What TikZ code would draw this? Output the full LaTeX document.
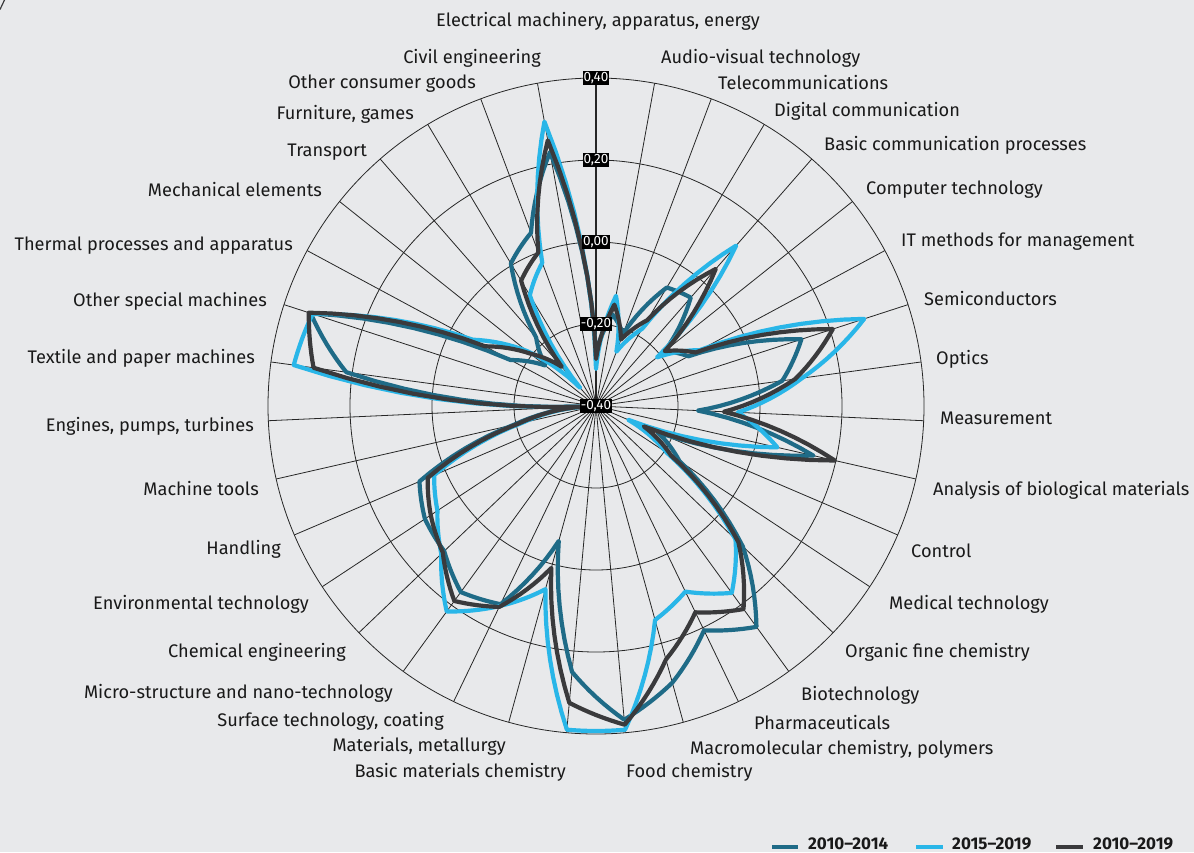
\documentclass[tikz,border=0pt]{standalone}
\usepackage{fontspec}
\setmainfont{Fira Sans}
\usetikzlibrary{calc}
\definecolor{bg}{RGB}{232,233,235}
\definecolor{cteal}{RGB}{31,107,135}
\definecolor{cblue}{RGB}{41,182,232}
\definecolor{cgray}{RGB}{58,58,60}
\definecolor{cgrid}{RGB}{38,38,38}
\definecolor{ctext}{RGB}{25,25,25}
% radii (pt) on the 35 spokes, clockwise from the top; first two repeated at the end
\def\teR{{52,93,77,138,144,88,105,216,188,102,223,67,100,203,273,249,287,315,267,140,220,230,210,205,192,84,14,252,300,97,65,91,166,185,258,52,93}}
\def\blR{{37,112,58,90,213,78,118,282,208,142,186,35,85,193,231,206,222,325,325,190,222,254,214,190,176,76,12,305,298,140,88,24,129,153,289,37,112}}
\def\grR{{47,103,71,100,182,88,113,249,201,128,245,52,90,197,251,229,263,320,298,168,223,241,212,198,183,80,14,285,302,126,84,52,146,164,270,47,103}}
\newcommand{\radarcurve}[2]{%
  \draw[#1] plot[domain=0:35, samples=281, variable=\q]
    ({90-\q*360/35}:{#2[int(\q)]+(#2[int(\q)+1]-#2[int(\q)])*(\q-int(\q))}) -- cycle;}
\begin{document}
\begin{tikzpicture}[x=1pt,y=1pt,
  grid/.style={draw=cgrid, line width=0.8pt},
  series/.style={line width=4.2pt, line join=round},
  tealline/.style={series, draw=cteal},
  blueline/.style={series, draw=cblue},
  grayline/.style={series, draw=cgray},
  lab/.style={font=\fontsize{18.2}{20}\selectfont, text=ctext, inner sep=0pt},
  labL/.style={lab, anchor=base east},
  labR/.style={lab, anchor=base west},
  tick/.style={fill=black, text=white, inner sep=1pt, font=\fontsize{13.5}{13.5}\selectfont},
  legtext/.style={font=\bfseries\fontsize{17}{18}\selectfont, text=ctext, anchor=base west, inner sep=0pt},
  legline/.style={line width=3.2pt}]
\fill[bg] (0,0) rectangle (1194,-852);
\useasboundingbox (0,0) rectangle (1194,-852);
\coordinate (c) at (596,-406);
% corner mark
\coordinate (m1) at (0,-9.5);
\coordinate (m2) at (4.5,0);
\draw[cgray, line width=1.2pt] (m1) -- (m2);
% rings
\foreach \r in {82,164,246,328} \draw[grid] (c) circle[radius=\r pt];
% spokes
\foreach \k in {0,...,34}{\coordinate (s\k) at ($(c)+({90-\k*360/35}:328pt)$);
  \draw[grid] (c) -- (s\k);}
\draw[draw=cgrid, line width=1.2pt] (c) -- (s0);
% series (linear in radius between spokes)
\begin{scope}[shift={(c)}]
\radarcurve{tealline}{\teR}
\radarcurve{blueline}{\blR}
\radarcurve{grayline}{\grR}
\end{scope}
% tick labels
\node[tick] (t0) at ($(c)+(0,0)$) {-0,40};
\node[tick] (t1) at ($(c)+(0,82)$) {-0,20};
\node[tick] (t2) at ($(c)+(0,164)$) {0,00};
\node[tick] (t3) at ($(c)+(0,246)$) {0,20};
\node[tick] (t4) at ($(c)+(0,328)$) {0,40};
% category labels
\node[lab, anchor=base] (l0) at (598,-26) {Electrical machinery, apparatus, energy};
\node[labR] (l1) at (661,-63) {Audio-visual technology};
\node[labR] (l2) at (718,-89) {Telecommunications};
\node[labR] (l3) at (774,-116) {Digital communication};
\node[labR] (l4) at (824,-150) {Basic communication processes};
\node[labR] (l5) at (866,-194) {Computer technology};
\node[labR] (l6) at (901,-246) {IT methods for management};
\node[labR] (l7) at (924,-305) {Semiconductors};
\node[labR] (l8) at (936,-364) {Optics};
\node[labR] (l9) at (940,-424) {Measurement};
\node[labR] (l10) at (933,-495) {Analysis of biological materials};
\node[labR] (l11) at (911,-557) {Control};
\node[labR] (l12) at (889,-609) {Medical technology};
\node[labR] (l13) at (845,-657) {Organic fine chemistry};
\node[labR] (l14) at (801,-700) {Biotechnology};
\node[labR] (l15) at (754,-729) {Pharmaceuticals};
\node[labR] (l16) at (690,-754) {Macromolecular chemistry, polymers};
\node[labR] (l17) at (626,-777) {Food chemistry};
\node[labL] (l18) at (566,-777) {Basic materials chemistry};
\node[labL] (l19) at (506,-751) {Materials, metallurgy};
\node[labL] (l20) at (444,-726) {Surface technology, coating};
\node[labL] (l21) at (393,-698) {Micro-structure and nano-technology};
\node[labL] (l22) at (346,-657) {Chemical engineering};
\node[labL] (l23) at (309,-609) {Environmental technology};
\node[labL] (l24) at (281,-554) {Handling};
\node[labL] (l25) at (259,-495) {Machine tools};
\node[labL] (l26) at (254,-431) {Engines, pumps, turbines};
\node[labL] (l27) at (255,-363) {Textile and paper machines};
\node[labL] (l28) at (267,-306) {Other special machines};
\node[labL] (l29) at (293,-250) {Thermal processes and apparatus};
\node[labL] (l30) at (322,-196) {Mechanical elements};
\node[labL] (l31) at (367,-156) {Transport};
\node[labL] (l32) at (414,-119) {Furniture, games};
\node[labL] (l33) at (476,-88) {Other consumer goods};
\node[labL] (l34) at (541,-63) {Civil engineering};
% legend
\coordinate (a1) at (772,-847); \coordinate (a2) at (798,-847);
\coordinate (b1) at (916,-847); \coordinate (b2) at (943,-847);
\coordinate (g1) at (1056,-847); \coordinate (g2) at (1083,-847);
\draw[legline, cteal] (a1) -- (a2);
\draw[legline, cblue] (b1) -- (b2);
\draw[legline, cgray] (g1) -- (g2);
\node[legtext] (k1) at (808,-849) {2010–2014};
\node[legtext] (k2) at (952,-849) {2015–2019};
\node[legtext] (k3) at (1093,-849) {2010–2019};
\end{tikzpicture}
\end{document}
